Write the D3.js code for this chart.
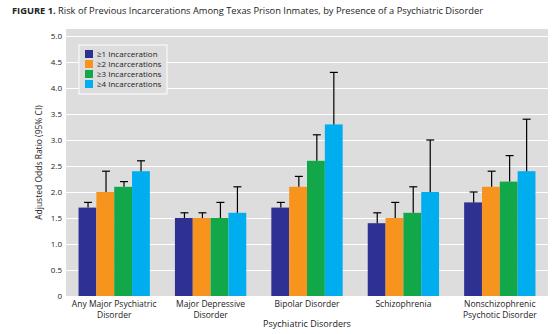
<!DOCTYPE html>
<html>
<head>
<meta charset="utf-8">
<script src="https://cdn.jsdelivr.net/npm/d3@7"></script>
<style>
  body { margin: 0; background: #fff; }
  text { font-family: 'Open Sans', 'Noto Sans', sans-serif; fill: #222; }
</style>
</head>
<body>
<div id="chart"></div>
<script>
// odds ratios by disorder, one value per incarceration count
var disorders = [
  ['Any Major Psychiatric', 'Disorder'],
  ['Major Depressive', 'Disorder'],
  ['Bipolar Disorder'],
  ['Schizophrenia'],
  ['Nonschizophrenic', 'Psychotic Disorder']
]
var seriesNames = ['≥1 Incarceration', '≥2 Incarcerations', '≥3 Incarcerations', '≥4 Incarcerations']
var seriesColors = ['#2e3192', '#f7941d', '#12a84a', '#00aeef']
var oddsRatio = [
  [1.7, 2.0, 2.1, 2.4],
  [1.5, 1.5, 1.5, 1.6],
  [1.7, 2.1, 2.6, 3.3],
  [1.4, 1.5, 1.6, 2.0],
  [1.8, 2.1, 2.2, 2.4]
]
var upperCI = [
  [1.8, 2.4, 2.2, 2.6],
  [1.6, 1.6, 1.8, 2.1],
  [1.8, 2.3, 3.1, 4.3],
  [1.6, 1.8, 2.1, 3.0],
  [2.0, 2.4, 2.7, 3.4]
]
var yTicks = [0, 0.5, 1.0, 1.5, 2.0, 2.5, 3.0, 3.5, 4.0, 4.5, 5.0]

var width = 559, height = 334
var plot = { left: 66, right: 548, top: 29, bottom: 296 }

var svg = d3.select('#chart').append('svg')
  .attr('width', width)
  .attr('height', height)

// title
var title = svg.append('text')
  .attr('x', 12)
  .attr('y', 14)
  .style('font-size', '9.3px')
title.append('tspan').style('font-weight', 'bold').text('FIGURE 1. ')
title.append('tspan').text('Risk of Previous Incarcerations Among Texas Prison Inmates, by Presence of a Psychiatric Disorder')

var x0 = d3.scaleBand()
  .domain(d3.range(disorders.length))
  .range([plot.left, plot.right])
  .paddingInner(0.26)
  .paddingOuter(0.13)
var x1 = d3.scaleBand()
  .domain(d3.range(seriesNames.length))
  .range([0, x0.bandwidth()])
var y = d3.scaleLinear().domain([0, 5]).range([plot.bottom, 36])

// grey panel with white gridlines
svg.append('rect')
  .attr('x', plot.left)
  .attr('y', plot.top)
  .attr('width', plot.right - plot.left)
  .attr('height', plot.bottom - plot.top)
  .attr('fill', '#dddddd')

svg.append('g')
  .selectAll('line')
  .data(yTicks.filter(function(d) { return d > 0 }))
  .enter()
  .append('line')
  .attr('x1', plot.left)
  .attr('x2', plot.right)
  .attr('y1', function(d) { return Math.round(y(d)) + 0.5 })
  .attr('y2', function(d) { return Math.round(y(d)) + 0.5 })
  .attr('stroke', '#fff')
  .attr('stroke-width', 1.2)

svg.append('g')
  .selectAll('text')
  .data(yTicks)
  .enter()
  .append('text')
  .attr('x', 62)
  .attr('y', function(d) { return y(d) + 3 })
  .attr('text-anchor', 'end')
  .style('font-size', '8px')
  .text(function(d) { return d === 0 ? '0' : d.toFixed(1) })

svg.append('text')
  .attr('transform', 'translate(42,' + (plot.top + plot.bottom) / 2 + ') rotate(-90)')
  .attr('text-anchor', 'middle')
  .style('font-size', '8.5px')
  .text('Adjusted Odds Ratio (95% CI)')

// bars and upper confidence whiskers
var groups = svg.append('g')
  .selectAll('g')
  .data(oddsRatio)
  .enter()
  .append('g')
  .attr('transform', function(d, i) { return 'translate(' + x0(i) + ',0)' })

groups.selectAll('rect')
  .data(function(d) { return d })
  .enter()
  .append('rect')
  .attr('x', function(d, j) { return x1(j) })
  .attr('y', function(d) { return y(d) })
  .attr('width', x1.bandwidth())
  .attr('height', function(d) { return y(0) - y(d) })
  .attr('fill', function(d, j) { return seriesColors[j] })

groups.each(function(d, i) {
  var g = d3.select(this)
  upperCI[i].forEach(function(ci, j) {
    var cx = Math.round(x1(j) + x1.bandwidth() / 2) + 0.5
    g.append('line')
      .attr('x1', cx).attr('x2', cx)
      .attr('y1', y(d[j])).attr('y2', y(ci))
      .attr('stroke', '#000').attr('stroke-width', 1.2)
    g.append('line')
      .attr('x1', cx - 4).attr('x2', cx + 4)
      .attr('y1', y(ci)).attr('y2', y(ci))
      .attr('stroke', '#000').attr('stroke-width', 1.2)
  })
})

// category labels
var labels = svg.append('g')
  .selectAll('text')
  .data(disorders)
  .enter()
  .append('text')
  .attr('text-anchor', 'middle')
  .style('font-size', '8.5px')
  .attr('y', 307)
labels.selectAll('tspan')
  .data(function(d, i) { return d.map(function(s) { return [s, i] }) })
  .enter()
  .append('tspan')
  .attr('x', function(d) { return x0(d[1]) + x0.bandwidth() / 2 })
  .attr('dy', function(d, k) { return k === 0 ? 0 : 11 })
  .text(function(d) { return d[0] })

svg.append('text')
  .attr('x', (plot.left + plot.right) / 2)
  .attr('y', 327)
  .attr('text-anchor', 'middle')
  .style('font-size', '9px')
  .text('Psychiatric Disorders')

// legend
var legend = svg.append('g').attr('transform', 'translate(79,45)')
legend.append('rect')
  .attr('width', 88)
  .attr('height', 49)
  .attr('fill', '#dddddd')
  .attr('stroke', '#fff')
  .attr('stroke-width', 1)
var items = legend.selectAll('g.item')
  .data(seriesNames)
  .enter()
  .append('g')
  .attr('class', 'item')
  .attr('transform', function(d, i) { return 'translate(6,' + (5 + i * 10) + ')' })
items.append('rect')
  .attr('width', 8)
  .attr('height', 8)
  .attr('fill', function(d, i) { return seriesColors[i] })
items.append('text')
  .attr('x', 12)
  .attr('y', 7)
  .style('font-size', '8px')
  .text(function(d) { return d })
</script>
</body>
</html>
